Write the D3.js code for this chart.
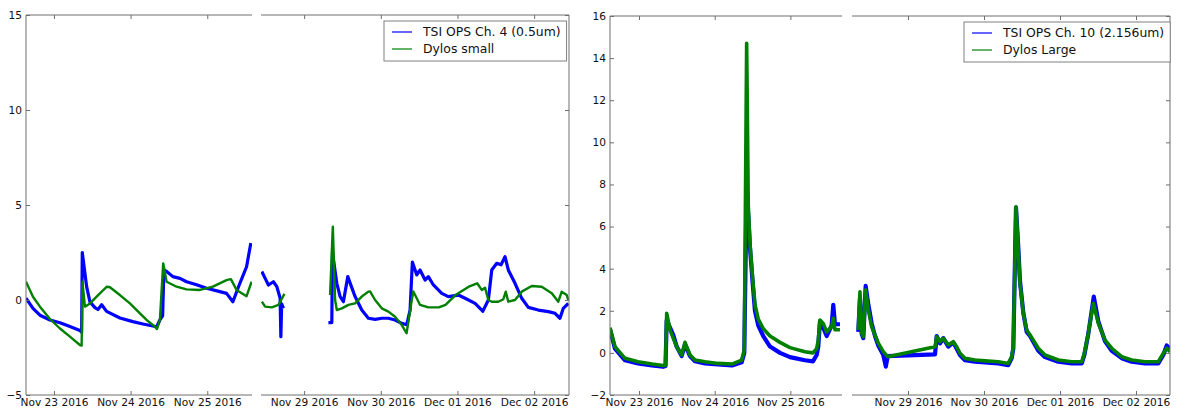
<!DOCTYPE html>
<html>
<head>
<meta charset="utf-8">
<script src="https://cdn.jsdelivr.net/npm/d3@7"></script>
<style>
  body { margin: 0; background: #fff; }
  svg { display: block; font-family: "DejaVu Sans", sans-serif; }
</style>
</head>
<body>
<div id="chart"></div>
<script>
// y ticks for both charts
var smallYTicks = [-5, 0, 5, 10, 15];
var largeYTicks = [-2, 0, 2, 4, 6, 8, 10, 12, 14, 16];

// date ticks, before and after the axis break
var ticksBefore = ["2016-11-23 00:00", "2016-11-24 00:00", "2016-11-25 00:00"];
var ticksAfter = ["2016-11-29 00:00", "2016-11-30 00:00", "2016-12-01 00:00", "2016-12-02 00:00"];

// legend labels
var smallLabels = ["TSI OPS Ch. 4 (0.5um)", "Dylos small"];
var largeLabels = ["TSI OPS Ch. 10 (2.156um)", "Dylos Large"];

// TSI OPS Ch. 4 (0.5um), null marks a gap in the record
var opsCh4 = [
    ["2016-11-22 15:15", 0.1], ["2016-11-22 17:26", -0.44], ["2016-11-22 19:37", -0.8],
    ["2016-11-22 22:45", -1.05], ["2016-11-23 01:53", -1.2], ["2016-11-23 05:00", -1.4],
    ["2016-11-23 08:08", -1.6], ["2016-11-23 08:40", -1.7], ["2016-11-23 08:52", 2.5],
    ["2016-11-23 10:14", 0.7], ["2016-11-23 11:16", -0.1], ["2016-11-23 12:50", -0.4],
    ["2016-11-23 13:46", -0.5], ["2016-11-23 14:56", -0.25], ["2016-11-23 16:29", -0.6],
    ["2016-11-23 20:39", -0.95], ["2016-11-24 00:43", -1.14], ["2016-11-24 03:51", -1.26],
    ["2016-11-24 06:59", -1.37], ["2016-11-24 08:08", -1.42], ["2016-11-24 09:10", -1.05],
    ["2016-11-24 10:01", -0.84], ["2016-11-24 10:25", 1.58], ["2016-11-24 11:16", 1.5],
    ["2016-11-24 13:14", 1.23], ["2016-11-24 15:26", 1.14], ["2016-11-24 17:31", 0.96],
    ["2016-11-24 20:39", 0.8], ["2016-11-24 23:47", 0.62], ["2016-11-25 03:56", 0.44],
    ["2016-11-25 06:02", 0.35], ["2016-11-25 08:01", -0.09], ["2016-11-25 10:12", 0.88],
    ["2016-11-25 12:18", 1.75], ["2016-11-25 13:38", 3.0],
    ["2016-11-28 10:46", 1.5], ["2016-11-28 11:48", 1.14], ["2016-11-28 12:50", 0.79],
    ["2016-11-28 14:23", 0.96], ["2016-11-28 15:28", 0.7], ["2016-11-28 16:29", 0.1],
    ["2016-11-28 16:43", -1.93], ["2016-11-28 16:58", -0.2], ["2016-11-28 17:31", -0.44],
    ["2016-11-29 00:00", null],
    ["2016-11-29 07:36", -1.19], ["2016-11-29 08:40", -1.19], ["2016-11-29 08:52", 2.5],
    ["2016-11-29 10:14", 0.88], ["2016-11-29 11:16", 0.18], ["2016-11-29 12:18", -0.09],
    ["2016-11-29 13:40", 1.23], ["2016-11-29 15:57", 0.18], ["2016-11-29 18:03", -0.53],
    ["2016-11-29 20:07", -0.96], ["2016-11-29 22:13", -1.02], ["2016-11-30 00:19", -0.96],
    ["2016-11-30 02:23", -0.96], ["2016-11-30 04:28", -1.05], ["2016-11-30 06:34", -1.23],
    ["2016-11-30 08:08", -1.3], ["2016-11-30 09:10", -0.53], ["2016-11-30 09:53", 2.0],
    ["2016-11-30 11:16", 1.32], ["2016-11-30 12:18", 1.58], ["2016-11-30 13:52", 1.05],
    ["2016-11-30 14:53", 1.23], ["2016-11-30 16:28", 0.79], ["2016-11-30 19:05", 0.35],
    ["2016-11-30 21:09", 0.18], ["2016-12-01 00:17", 0.26], ["2016-12-01 02:23", 0.09],
    ["2016-12-01 05:31", -0.18], ["2016-12-01 07:36", -0.53], ["2016-12-01 07:55", -0.6],
    ["2016-12-01 09:40", 0.0], ["2016-12-01 10:44", 1.58], ["2016-12-01 12:18", 1.93],
    ["2016-12-01 13:38", 1.85], ["2016-12-01 14:53", 2.28], ["2016-12-01 15:55", 1.58],
    ["2016-12-01 18:01", 0.88], ["2016-12-01 20:07", 0.09], ["2016-12-01 22:11", -0.39],
    ["2016-12-02 01:19", -0.53], ["2016-12-02 04:26", -0.61], ["2016-12-02 06:32", -0.7],
    ["2016-12-02 08:06", -0.96], ["2016-12-02 09:08", -0.44], ["2016-12-02 10:42", -0.18]
];

// Dylos small
var dylosSmall = [
    ["2016-11-22 15:15", 0.96], ["2016-11-22 17:26", 0.17], ["2016-11-22 19:37", -0.35],
    ["2016-11-22 22:45", -1.0], ["2016-11-23 01:53", -1.5], ["2016-11-23 05:00", -1.93],
    ["2016-11-23 08:08", -2.37], ["2016-11-23 08:40", -2.4], ["2016-11-23 08:55", 0.96],
    ["2016-11-23 09:42", -0.35], ["2016-11-23 11:16", -0.18], ["2016-11-23 14:23", 0.35],
    ["2016-11-23 16:35", 0.7], ["2016-11-23 17:31", 0.67], ["2016-11-23 20:39", 0.26],
    ["2016-11-23 23:47", -0.18], ["2016-11-24 02:55", -0.7], ["2016-11-24 05:00", -1.05],
    ["2016-11-24 07:36", -1.4], ["2016-11-24 08:14", -1.53], ["2016-11-24 09:10", -1.05],
    ["2016-11-24 10:12", 1.93], ["2016-11-24 11:16", 0.96], ["2016-11-24 14:23", 0.7],
    ["2016-11-24 17:31", 0.56], ["2016-11-24 21:41", 0.53], ["2016-11-25 01:45", 0.7],
    ["2016-11-25 06:02", 1.05], ["2016-11-25 07:23", 1.1], ["2016-11-25 09:10", 0.53],
    ["2016-11-25 12:18", 0.2], ["2016-11-25 13:52", 0.96],
    ["2016-11-28 10:46", -0.09], ["2016-11-28 11:48", -0.35], ["2016-11-28 13:53", -0.39],
    ["2016-11-28 15:58", -0.26], ["2016-11-28 17:50", 0.32],
    ["2016-11-29 00:00", null],
    ["2016-11-29 08:08", 0.26], ["2016-11-29 08:59", 3.86], ["2016-11-29 09:42", 0.0],
    ["2016-11-29 10:14", -0.53], ["2016-11-29 11:48", -0.44], ["2016-11-29 13:52", -0.26],
    ["2016-11-29 15:57", -0.18], ["2016-11-29 18:03", 0.18], ["2016-11-29 20:07", 0.44],
    ["2016-11-29 20:39", 0.45], ["2016-11-29 22:13", 0.0], ["2016-11-30 00:19", -0.44],
    ["2016-11-30 02:23", -0.61], ["2016-11-30 04:28", -0.88], ["2016-11-30 06:34", -1.32],
    ["2016-11-30 08:04", -1.75], ["2016-11-30 09:42", 0.0], ["2016-11-30 10:12", 0.45],
    ["2016-11-30 12:18", -0.26], ["2016-11-30 14:53", -0.39], ["2016-11-30 18:09", -0.39],
    ["2016-11-30 20:15", -0.26], ["2016-11-30 23:23", 0.26], ["2016-12-01 03:32", 0.7],
    ["2016-12-01 06:10", 0.88], ["2016-12-01 07:36", 0.53], ["2016-12-01 08:38", 0.65],
    ["2016-12-01 09:40", 0.0], ["2016-12-01 10:44", -0.09], ["2016-12-01 12:48", -0.09],
    ["2016-12-01 14:22", 0.04], ["2016-12-01 15:07", 0.44], ["2016-12-01 15:55", -0.09],
    ["2016-12-01 18:01", 0.0], ["2016-12-01 20:07", 0.44], ["2016-12-01 23:15", 0.74],
    ["2016-12-02 02:23", 0.7], ["2016-12-02 05:31", 0.35], ["2016-12-02 07:34", -0.09],
    ["2016-12-02 08:38", 0.44], ["2016-12-02 10:12", 0.26], ["2016-12-02 10:42", 0.0]
];

// TSI OPS Ch. 10 (2.156um)
var opsCh10 = [
    ["2016-11-22 14:49", 1.1], ["2016-11-22 16:23", 0.2], ["2016-11-22 19:34", -0.35],
    ["2016-11-22 23:41", -0.5], ["2016-11-23 04:07", -0.6], ["2016-11-23 07:37", -0.66],
    ["2016-11-23 08:24", -0.62], ["2016-11-23 08:47", 1.55], ["2016-11-23 09:50", 1.2],
    ["2016-11-23 10:52", 0.85], ["2016-11-23 11:57", 0.3], ["2016-11-23 13:32", -0.15],
    ["2016-11-23 14:35", 0.4], ["2016-11-23 16:10", -0.15], ["2016-11-23 17:45", -0.4],
    ["2016-11-23 20:55", -0.5], ["2016-11-24 01:03", -0.55], ["2016-11-24 05:29", -0.6],
    ["2016-11-24 08:33", -0.45], ["2016-11-24 09:23", 0.0], ["2016-11-24 10:05", 7.5],
    ["2016-11-24 10:39", 6.5], ["2016-11-24 11:11", 5.0], ["2016-11-24 12:03", 3.3],
    ["2016-11-24 12:46", 2.0], ["2016-11-24 13:49", 1.3], ["2016-11-24 15:24", 0.8],
    ["2016-11-24 17:32", 0.3], ["2016-11-24 20:42", 0.0], ["2016-11-24 23:52", -0.2],
    ["2016-11-25 04:37", -0.35], ["2016-11-25 07:09", -0.4], ["2016-11-25 08:20", -0.1],
    ["2016-11-25 08:50", 0.3], ["2016-11-25 09:23", 1.5], ["2016-11-25 10:25", 1.2],
    ["2016-11-25 11:30", 0.8], ["2016-11-25 13:05", 1.3], ["2016-11-25 13:36", 2.28],
    ["2016-11-25 14:08", 1.36], ["2016-11-25 15:43", 1.36],
    ["2016-11-28 08:18", 1.0], ["2016-11-28 08:50", 2.6], ["2016-11-28 09:23", 0.9],
    ["2016-11-28 09:53", 0.7], ["2016-11-28 10:38", 3.18], ["2016-11-28 11:28", 2.3],
    ["2016-11-28 12:32", 1.4], ["2016-11-28 13:35", 0.8], ["2016-11-28 14:37", 0.35],
    ["2016-11-28 16:12", -0.1], ["2016-11-28 17:00", -0.65], ["2016-11-28 17:35", -0.15],
    ["2016-11-29 08:32", -0.07], ["2016-11-29 09:04", 0.8], ["2016-11-29 10:07", 0.45],
    ["2016-11-29 11:09", 0.7], ["2016-11-29 12:44", 0.3], ["2016-11-29 14:18", 0.5],
    ["2016-11-29 15:23", 0.2], ["2016-11-29 16:25", -0.1], ["2016-11-29 18:00", -0.35],
    ["2016-11-29 21:10", -0.42], ["2016-11-30 00:19", -0.45], ["2016-11-30 04:31", -0.5],
    ["2016-11-30 07:40", -0.58], ["2016-11-30 08:45", -0.25], ["2016-11-30 09:15", 0.2],
    ["2016-11-30 10:06", 6.9], ["2016-11-30 10:50", 5.0], ["2016-11-30 11:22", 3.4],
    ["2016-11-30 12:25", 1.9], ["2016-11-30 13:29", 1.0], ["2016-11-30 14:32", 0.8],
    ["2016-11-30 17:09", 0.1], ["2016-11-30 19:16", -0.2], ["2016-11-30 23:28", -0.42],
    ["2016-12-01 03:42", -0.5], ["2016-12-01 06:52", -0.5], ["2016-12-01 07:41", -0.1],
    ["2016-12-01 08:56", 0.9], ["2016-12-01 10:40", 2.67], ["2016-12-01 12:06", 1.5],
    ["2016-12-01 14:13", 0.55], ["2016-12-01 16:20", 0.1], ["2016-12-01 19:29", -0.25],
    ["2016-12-01 22:38", -0.42], ["2016-12-02 02:50", -0.5], ["2016-12-02 07:02", -0.5],
    ["2016-12-02 08:37", -0.1], ["2016-12-02 09:42", 0.35], ["2016-12-02 10:44", 0.2]
];

// Dylos Large
var dylosLarge = [
    ["2016-11-22 14:49", 1.2], ["2016-11-22 16:23", 0.29], ["2016-11-22 19:34", -0.26],
    ["2016-11-22 23:41", -0.42], ["2016-11-23 04:07", -0.53], ["2016-11-23 07:37", -0.6],
    ["2016-11-23 08:24", -0.6], ["2016-11-23 08:47", 1.88], ["2016-11-23 09:50", 1.09],
    ["2016-11-23 10:52", 0.69], ["2016-11-23 11:57", 0.29], ["2016-11-23 13:32", -0.1],
    ["2016-11-23 14:35", 0.5], ["2016-11-23 16:10", -0.1], ["2016-11-23 17:45", -0.34],
    ["2016-11-23 20:55", -0.42], ["2016-11-24 01:03", -0.5], ["2016-11-24 05:29", -0.53],
    ["2016-11-24 08:33", -0.34], ["2016-11-24 09:23", 0.14], ["2016-11-24 10:08", 14.7],
    ["2016-11-24 10:39", 7.0], ["2016-11-24 11:11", 5.2], ["2016-11-24 12:03", 3.5],
    ["2016-11-24 12:46", 2.3], ["2016-11-24 13:49", 1.6], ["2016-11-24 15:24", 1.15],
    ["2016-11-24 17:32", 0.8], ["2016-11-24 20:42", 0.5], ["2016-11-24 23:52", 0.25],
    ["2016-11-25 04:37", 0.05], ["2016-11-25 07:09", 0.0], ["2016-11-25 08:20", 0.2],
    ["2016-11-25 08:50", 0.6], ["2016-11-25 09:23", 1.56], ["2016-11-25 10:25", 1.4],
    ["2016-11-25 11:30", 1.0], ["2016-11-25 13:05", 1.24], ["2016-11-25 13:36", 1.64],
    ["2016-11-25 14:08", 1.1], ["2016-11-25 15:43", 1.1],
    ["2016-11-28 08:18", 1.09], ["2016-11-28 08:50", 2.9], ["2016-11-28 09:23", 0.93],
    ["2016-11-28 09:53", 0.77], ["2016-11-28 10:38", 3.0], ["2016-11-28 11:28", 2.04],
    ["2016-11-28 12:32", 1.24], ["2016-11-28 13:35", 0.85], ["2016-11-28 14:37", 0.46],
    ["2016-11-28 16:12", 0.06], ["2016-11-28 17:35", -0.18],
    ["2016-11-29 08:32", 0.29], ["2016-11-29 09:04", 0.77], ["2016-11-29 10:07", 0.53],
    ["2016-11-29 11:09", 0.69], ["2016-11-29 12:44", 0.38], ["2016-11-29 14:18", 0.53],
    ["2016-11-29 15:23", 0.29], ["2016-11-29 16:25", -0.02], ["2016-11-29 18:00", -0.26],
    ["2016-11-29 21:10", -0.34], ["2016-11-30 00:19", -0.38], ["2016-11-30 04:31", -0.42],
    ["2016-11-30 07:40", -0.5], ["2016-11-30 08:45", -0.18], ["2016-11-30 09:15", 0.29],
    ["2016-11-30 10:06", 6.94], ["2016-11-30 10:50", 4.89], ["2016-11-30 11:22", 3.3],
    ["2016-11-30 12:25", 1.88], ["2016-11-30 13:29", 1.09], ["2016-11-30 14:32", 0.85],
    ["2016-11-30 17:09", 0.22], ["2016-11-30 19:16", -0.1], ["2016-11-30 23:28", -0.34],
    ["2016-12-01 03:42", -0.42], ["2016-12-01 06:52", -0.42], ["2016-12-01 07:41", -0.02],
    ["2016-12-01 08:56", 0.93], ["2016-12-01 10:31", 2.36], ["2016-12-01 12:06", 1.4],
    ["2016-12-01 14:13", 0.61], ["2016-12-01 16:20", 0.22], ["2016-12-01 19:29", -0.18],
    ["2016-12-01 22:38", -0.34], ["2016-12-02 02:50", -0.42], ["2016-12-02 07:02", -0.42],
    ["2016-12-02 08:37", -0.02], ["2016-12-02 09:42", 0.22], ["2016-12-02 10:44", 0.06]
];

var parseTime = d3.timeParse("%Y-%m-%d %H:%M");
var spineColor = "#6e6e6e";

function init() {
    var w = 1178, h = 410;

    var svg = d3.select("#chart")
        .append("svg")
        .attr("width", w)
        .attr("height", h);

    // left chart: small particles
    drawChart(svg, {
        id: "small",
        top: 15, bottom: 395,
        yDomain: [-5, 15],
        yTicks: smallYTicks,
        panels: [
            { domain: ["2016-11-22 15:15", "2016-11-25 14:00"], range: [26, 252], ticks: ticksBefore, side: "left" },
            { domain: ["2016-11-28 10:30", "2016-12-02 10:55"], range: [261, 569], ticks: ticksAfter, side: "right" }
        ],
        series: [
            { data: opsCh4, color: "#0000ff", width: 3.2 },
            { data: dylosSmall, color: "#008000", width: 2.4 }
        ],
        labels: smallLabels,
        legend: { x: 384, y: 21 }
    });

    // right chart: large particles
    drawChart(svg, {
        id: "large",
        top: 16, bottom: 395,
        yDomain: [-2, 16],
        yTicks: largeYTicks,
        panels: [
            { domain: ["2016-11-22 14:48", "2016-11-25 16:22"], range: [610, 842], ticks: ticksBefore, side: "left" },
            { domain: ["2016-11-28 06:19", "2016-12-02 10:44"], range: [852, 1170], ticks: ticksAfter, side: "right" }
        ],
        series: [
            { data: opsCh10, color: "#0000ff", width: 4.2 },
            { data: dylosLarge, color: "#008000", width: 3.6 }
        ],
        labels: largeLabels,
        legend: { x: 964, y: 22 }
    });
}

function drawChart(svg, cfg) {
    var yScale = d3.scaleLinear()
        .domain(cfg.yDomain)
        .range([cfg.bottom, cfg.top]);

    cfg.panels.forEach(function (p, i) {
        var g = svg.append("g");
        var xScale = d3.scaleTime()
            .domain(p.domain.map(parseTime))
            .range(p.range);
        var t0 = xScale.domain()[0], t1 = xScale.domain()[1];

        // clip the lines to the panel
        var clipId = "clip-" + cfg.id + "-" + i;
        g.append("clipPath").attr("id", clipId)
            .append("rect")
            .attr("x", p.range[0]).attr("y", cfg.top)
            .attr("width", p.range[1] - p.range[0])
            .attr("height", cfg.bottom - cfg.top);

        var line = d3.line()
            .defined(d => d[1] !== null)
            .x(d => xScale(parseTime(d[0])))
            .y(d => yScale(d[1]));

        cfg.series.forEach(function (s) {
            var pts = s.data.filter(function (d) {
                var t = parseTime(d[0]);
                return t >= t0 && t <= t1;
            });
            g.append("path")
                .datum(pts)
                .attr("clip-path", "url(#" + clipId + ")")
                .attr("fill", "none")
                .attr("stroke", s.color)
                .attr("stroke-width", s.width)
                .attr("stroke-linejoin", "round")
                .attr("d", line);
        });

        var tickDates = p.ticks.map(parseTime);

        // bottom axis with labels
        var xBottom = g.append("g")
            .attr("transform", `translate(0, ${cfg.bottom})`)
            .call(d3.axisBottom(xScale)
                .tickValues(tickDates)
                .tickFormat(d3.timeFormat("%b %d %Y"))
                .tickSize(-4)
                .tickSizeOuter(0)
                .tickPadding(3));

        // top axis, ticks only
        var xTop = g.append("g")
            .attr("transform", `translate(0, ${cfg.top})`)
            .call(d3.axisTop(xScale)
                .tickValues(tickDates)
                .tickFormat("")
                .tickSize(-4)
                .tickSizeOuter(0));

        // y ticks: labels on the left panel only
        var yAxis;
        if (p.side === "left") {
            yAxis = g.append("g")
                .attr("transform", `translate(${p.range[0]}, 0)`)
                .call(d3.axisLeft(yScale).tickValues(cfg.yTicks)
                    .tickSize(-4).tickSizeOuter(0).tickPadding(4));
        } else {
            yAxis = g.append("g")
                .attr("transform", `translate(${p.range[1]}, 0)`)
                .call(d3.axisRight(yScale).tickValues(cfg.yTicks)
                    .tickSize(-4).tickSizeOuter(0).tickFormat(""));
        }

        [xBottom, xTop, yAxis].forEach(function (a) {
            a.select(".domain").remove();
            a.selectAll(".tick line").attr("stroke", spineColor);
            a.selectAll(".tick text")
                .attr("fill", "#111")
                .style("font-size", "10.6px")
                .style("font-family", "'DejaVu Sans', sans-serif");
        });

        // spines (no spine at the break)
        var spines = [
            [p.range[0], cfg.top, p.range[1], cfg.top],
            [p.range[0], cfg.bottom, p.range[1], cfg.bottom]
        ];
        if (p.side === "left") spines.push([p.range[0], cfg.top, p.range[0], cfg.bottom]);
        else spines.push([p.range[1], cfg.top, p.range[1], cfg.bottom]);

        g.selectAll(".spine")
            .data(spines)
            .enter()
            .append("line")
            .attr("class", "spine")
            .attr("x1", d => d[0]).attr("y1", d => d[1])
            .attr("x2", d => d[2]).attr("y2", d => d[3])
            .attr("stroke", spineColor)
            .attr("stroke-width", 1);
    });

    drawLegend(svg, cfg);
}

function drawLegend(svg, cfg) {
    var lg = svg.append("g")
        .attr("transform", `translate(${cfg.legend.x}, ${cfg.legend.y})`);

    var box = lg.append("rect")
        .attr("fill", "#fff")
        .attr("stroke", "#808080")
        .attr("stroke-width", 1);

    var rows = lg.selectAll(".row")
        .data(cfg.labels)
        .enter()
        .append("g")
        .attr("class", "row")
        .attr("transform", (d, i) => `translate(0, ${11 + i * 17})`);

    rows.append("line")
        .attr("x1", 8).attr("x2", 28)
        .attr("stroke", (d, i) => cfg.series[i].color)
        .attr("stroke-width", 1.2);

    rows.append("text")
        .attr("x", 39)
        .attr("dy", "0.35em")
        .attr("fill", "#111")
        .style("font-size", "12.4px")
        .text(d => d);

    var maxW = 0;
    rows.selectAll("text").each(function () {
        maxW = Math.max(maxW, this.getComputedTextLength());
    });

    box.attr("x", 0).attr("y", 0)
        .attr("width", 39 + maxW + 6)
        .attr("height", 40);
}

window.onload = init;
</script>
</body>
</html>
